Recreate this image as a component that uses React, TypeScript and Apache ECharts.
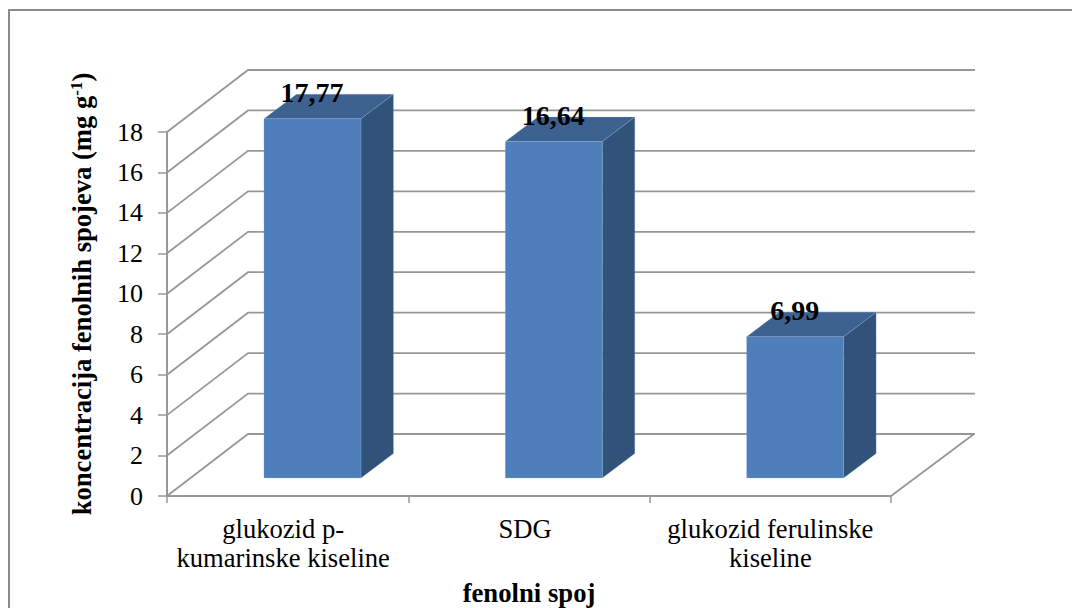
import React, { useEffect, useRef } from "react";
import * as echarts from "echarts";

const categories = ["glukozid p-\nkumarinske kiseline", "SDG", "glukozid ferulinske\nkiseline"];
const labelNudge = [9, 8, 0];
const concentrations = [17.77, 16.64, 6.99];
const wallTicks = [0, 2, 4, 6, 8, 10, 12, 14, 16, 18];
const yTitle = "koncentracija fenolnih spojeva (mg g";
const yTitleSup = "-1";
const xTitle = "fenolni spoj";

const SERIF = "'Liberation Serif', 'Times New Roman', serif";
const GREY = "#979797";
const WALL_DX = 81;
const WALL_DY = -62;
const BAR_HALF = 48.5;
const BAR_DX = 24.8;
const BAR_DY = -18;
const DEPTH_DX = 32.5;
const DEPTH_DY = -24.5;

export default function App() {
  const ref = useRef<HTMLDivElement>(null);
  useEffect(() => {
    if (!ref.current) return;
    const chart = echarts.init(ref.current, undefined, { renderer: "svg" });
    chart.setOption({
      animation: false,
      backgroundColor: "#ffffff",
      textStyle: { fontFamily: SERIF },
      graphic: [
        {
          type: "polyline",
          silent: true,
          shape: { points: [[9, 608], [9, 10], [1072, 10]] },
          style: { stroke: "#8a8a8a", lineWidth: 2, fill: "none" },
        },
      ],
      grid: { left: 167, top: 132, width: 724, height: 364, containLabel: false, outerBoundsMode: "none" },
      xAxis: {
        type: "category",
        data: categories.map((value, i) => ({
          value,
          textStyle: { padding: [0, labelNudge[i], 0, 0] },
        })),
        name: xTitle,
        nameLocation: "middle",
        nameGap: 83,
        nameTextStyle: { fontFamily: SERIF, fontSize: 26.7, fontWeight: "bold", color: "#000" },
        axisLine: { lineStyle: { color: GREY, width: 2 } },
        axisTick: { show: true, length: 7, lineStyle: { color: GREY, width: 1.5 } },
        axisLabel: {
          interval: 0,
          margin: 18,
          color: "#000",
          fontFamily: SERIF,
          fontSize: 26.6,
          lineHeight: 29,
        },
        splitLine: { show: false },
      },
      yAxis: {
        type: "value",
        min: 0,
        max: 18,
        interval: 2,
        name: `{a|${yTitle}}{s|${yTitleSup}}{a|)}`,
        nameLocation: "middle",
        nameGap: 72,
        nameRotate: 90,
        nameTextStyle: {
          padding: [0, 0, 0, 40],
          rich: {
            a: { fontFamily: SERIF, fontSize: 26.6, fontWeight: "bold", color: "#000" },
            s: { fontFamily: SERIF, fontSize: 17, fontWeight: "bold", color: "#000", verticalAlign: "top" },
          },
        },
        axisLine: { show: true, lineStyle: { color: GREY, width: 2 } },
        axisTick: { show: true, length: 9, lineStyle: { color: GREY, width: 1.5 } },
        axisLabel: { margin: 24, color: "#000", fontFamily: SERIF, fontSize: 26 },
        splitLine: { show: false },
      },
      series: [
        {
          type: "custom",
          name: "wall",
          silent: true,
          clip: false,
          z: 1,
          data: wallTicks.map((v) => [0, v]),
          renderItem: (params: any, api: any) => {
            const cs = params.coordSys;
            const y = api.coord([0, api.value(1)])[1];
            const left = cs.x;
            const right = cs.x + cs.width;
            const isFloor = api.value(1) === 0;
            const children: any[] = [
              {
                type: "polyline",
                shape: {
                  points: [
                    [left, y],
                    [left + WALL_DX, y + WALL_DY],
                    [right + WALL_DX + 3, y + WALL_DY],
                  ],
                },
                style: { stroke: GREY, lineWidth: 1.8, fill: "none" },
              },
            ];
            if (isFloor) {
              children.push({
                type: "line",
                shape: { x1: right, y1: y, x2: right + WALL_DX + 2, y2: y + WALL_DY },
                style: { stroke: GREY, lineWidth: 1.8 },
              });
            }
            return { type: "group", children };
          },
        },
        {
          type: "custom",
          name: "koncentracija",
          clip: false,
          z: 3,
          data: concentrations.map((v, i) => [i, v]),
          renderItem: (_params: any, api: any) => {
            const value = api.value(1);
            const [cx, top0] = api.coord([api.value(0), value]);
            const [, base0] = api.coord([api.value(0), 0]);
            const l = cx + BAR_DX - BAR_HALF;
            const r = cx + BAR_DX + BAR_HALF;
            const top = top0 + BAR_DY;
            const base = base0 + BAR_DY;
            const edge = { stroke: "rgba(150,180,220,0.3)", lineWidth: 0.8 };
            return {
              type: "group",
              children: [
                {
                  type: "polygon",
                  shape: { points: [[r, top], [r + DEPTH_DX, top + DEPTH_DY], [r + DEPTH_DX, base + DEPTH_DY], [r, base]] },
                  style: { fill: "#31537a", ...edge },
                },
                {
                  type: "polygon",
                  shape: { points: [[l, top], [l + DEPTH_DX, top + DEPTH_DY], [r + DEPTH_DX, top + DEPTH_DY], [r, top]] },
                  style: { fill: "#3d628f", ...edge },
                },
                {
                  type: "polygon",
                  shape: { points: [[l, top], [r, top], [r, base], [l, base]] },
                  style: { fill: "#4f7fbb", ...edge },
                },
                {
                  type: "text",
                  style: {
                    text: value.toFixed(2).replace(".", ","),
                    x: cx + BAR_DX - 0.5,
                    y: top - 12,
                    align: "center",
                    verticalAlign: "bottom",
                    fill: "#000",
                    font: `bold 28px ${SERIF}`,
                  },
                },
              ],
            };
          },
        },
      ],
    });
    return () => chart.dispose();
  }, []);
  return (
    <div
      ref={ref}
      style={{ position: "absolute", left: 0, top: 0, width: 1072, height: 608 }}
    />
  );
}
